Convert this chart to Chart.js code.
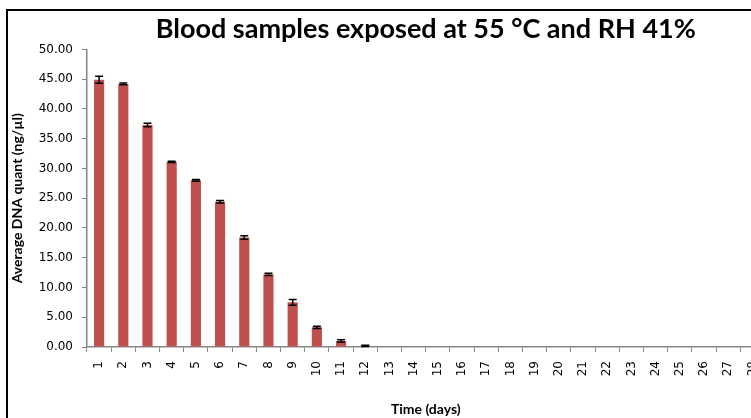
<!DOCTYPE html>
<html>
<head>
<meta charset="utf-8">
<script src="https://cdn.jsdelivr.net/npm/chart.js@4.4.0/dist/chart.umd.min.js"></script>
<style>
  html, body { margin: 0; padding: 0; background: #fff; overflow: hidden; width: 751px; height: 418px; }
  #frame { position: absolute; left: 6px; top: 9px; width: 800px; height: 420px;
           border-left: 2px solid #000; border-top: 2px solid #000; }
  #wrap { position: absolute; left: 0; top: 0; width: 776px; height: 418px; }
</style>
</head>
<body>
<div id="frame"></div>
<div id="wrap"><canvas id="myChart"></canvas></div>
<script>
// days 1..28 (last one cut off by the picture edge)
const days = [];
for (let d = 1; d <= 28; d++) days.push(String(d));

const dnaMeans = [44.9, 44.2, 37.3, 31.1, 28.0, 24.4, 18.4, 12.2, 7.5, 3.3, 1.0, 0.2,
  0, 0, 0, 0, 0, 0, 0, 0, 0, 0, 0, 0, 0, 0, 0, 0];
const dnaErrors = [0.6, 0.15, 0.3, 0.1, 0.15, 0.2, 0.3, 0.2, 0.5, 0.2, 0.2, 0.1,
  0, 0, 0, 0, 0, 0, 0, 0, 0, 0, 0, 0, 0, 0, 0, 0];

const axisGray = "#868686";

// error bar plugin
const errorBars = {
  id: "errorBars",
  afterDatasetsDraw(chart) {
    const ctx = chart.ctx;
    const yScale = chart.scales.y;
    const meta = chart.getDatasetMeta(0);
    ctx.save();
    ctx.strokeStyle = "#000";
    ctx.lineWidth = 1.5;
    meta.data.forEach((bar, i) => {
      const e = dnaErrors[i];
      if (!e) return;
      const v = dnaMeans[i];
      const yt = yScale.getPixelForValue(v + e);
      const yb = yScale.getPixelForValue(Math.max(0, v - e));
      const half = 4;
      ctx.beginPath();
      ctx.moveTo(bar.x, yt); ctx.lineTo(bar.x, yb);
      ctx.moveTo(bar.x - half, yt); ctx.lineTo(bar.x + half, yt);
      ctx.moveTo(bar.x - half, yb); ctx.lineTo(bar.x + half, yb);
      ctx.stroke();
    });
    ctx.restore();
  },
};

initChart();

function initChart() {
  const ctx = document.getElementById("myChart").getContext("2d");
  window.chart = new Chart(ctx, {
    type: "bar",
    data: {
      labels: days,
      datasets: [
        {
          label: "Average DNA quant",
          backgroundColor: "#C0504D",
          borderWidth: 0,
          data: dnaMeans,
          categoryPercentage: 0.42,
          barPercentage: 1.0,
        },
      ],
    },
    options: {
      responsive: true,
      maintainAspectRatio: false,
      animation: false,
      layout: { padding: { left: 0, right: 10, top: 0, bottom: 0 } },
      plugins: {
        legend: { display: false },
        tooltip: { enabled: false },
        title: {
          display: true,
          fullSize: false,
          text: "Blood samples exposed at 55 °C and RH 41%",
          color: "#000",
          font: { family: "Lato", size: 27, weight: "bold" },
          padding: { top: 13, bottom: 4 },
        },
      },
      scales: {
        x: {
          afterFit: (s) => { s.height = 71; },
          grid: { display: true, drawOnChartArea: false, drawTicks: true, tickLength: 5, color: axisGray, offset: true },
          border: { color: axisGray, width: 1.5 },
          ticks: {
            color: "#000",
            font: { family: "DejaVu Sans", size: 12 },
            maxRotation: 90,
            minRotation: 90,
            autoSkip: false,
            padding: 9,
          },
          title: {
            display: true,
            text: "Time (days)",
            color: "#000",
            font: { family: "Lato", size: 14, weight: "bold" },
            padding: { top: 0, bottom: 0 },
          },
        },
        y: {
          min: 0,
          max: 50,
          afterFit: (s) => { s.width = 87; },
          grid: { display: true, drawOnChartArea: false, drawTicks: true, tickLength: 5, color: axisGray },
          border: { color: axisGray, width: 1.5 },
          ticks: {
            stepSize: 5,
            color: "#000",
            font: { family: "DejaVu Sans", size: 12 },
            padding: 9,
            callback: (v) => Number(v).toFixed(2),
          },
          title: {
            display: true,
            text: "Average DNA quant (ng/µl)",
            color: "#000",
            font: { family: "Lato", size: 14, weight: "bold" },
            padding: { top: 9, bottom: 0 },
          },
        },
      },
    },
    plugins: [errorBars],
  });
}
</script>
</body>
</html>
